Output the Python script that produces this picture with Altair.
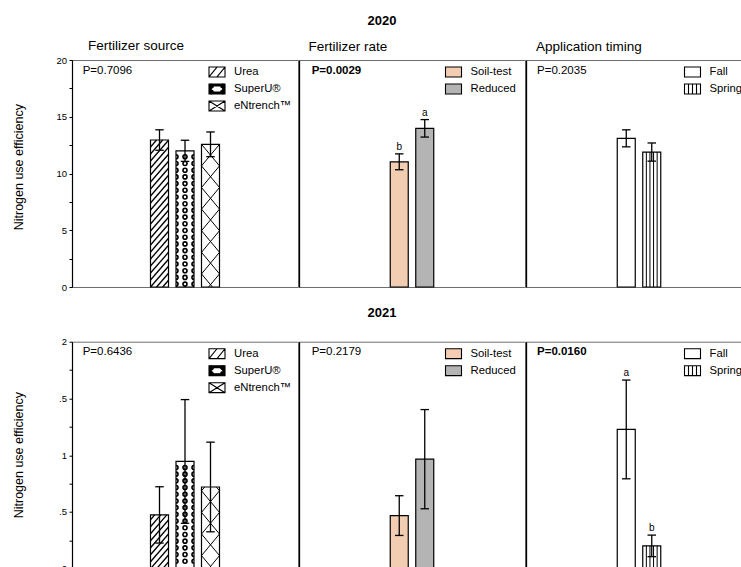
import json
import math

import altair as alt
import pandas as pd

FONT = "Liberation Sans"

# ---------------- data ----------------
SOURCE_LABELS = ["Urea", "SuperU®", "eNtrench™"]
RATE_LABELS = ["Soil-test", "Reduced"]
TIMING_LABELS = ["Fall", "Spring"]

NUE_SOURCE_2020 = [12.95, 12.00, 12.57]
SE_SOURCE_2020 = [0.90, 0.93, 1.09]
NUE_RATE_2020 = [11.03, 13.98]
SE_RATE_2020 = [0.70, 0.77]
LETTERS_RATE_2020 = ["b", "a"]
NUE_TIMING_2020 = [13.10, 11.89]
SE_TIMING_2020 = [0.75, 0.80]

NUE_SOURCE_2021 = [0.474, 0.945, 0.720]
SE_SOURCE_2021 = [0.248, 0.545, 0.395]
NUE_RATE_2021 = [0.468, 0.965]
SE_RATE_2021 = [0.175, 0.437]
NUE_TIMING_2021 = [1.227, 0.201]
SE_TIMING_2021 = [0.435, 0.095]
LETTERS_TIMING_2021 = ["a", "b"]

P_2020 = ["P=0.7096", "P=0.0029", "P=0.2035"]
P_2021 = ["P=0.6436", "P=0.2179", "P=0.0160"]
P_BOLD_2020 = [False, True, False]
P_BOLD_2021 = [False, False, True]

PANEL_TITLES = ["Fertilizer source", "Fertilizer rate", "Application timing"]

Y_TICKS_2020 = [0, 2.5, 5, 7.5, 10, 12.5, 15, 17.5, 20]
Y_MAJOR_2020 = [0, 5, 10, 15, 20]
Y_LABELS_2020 = ["0", "5", "10", "15", "20"]
Y_TICKS_2021 = [0, 0.25, 0.5, 0.75, 1, 1.25, 1.5, 1.75, 2]
Y_MAJOR_2021 = [0, 0.5, 1, 1.5, 2]
Y_LABELS_2021 = ["0", ".5", "1", ".5", "2"]

# ---------------- styling ----------------
PAGE_W, PAGE_H = 741, 567
PAD_LEFT, PAD_TOP = 72, 60      # top-left corner of the first plot on the page
PLOT_W = 226
PLOT_H = 227
STEP_PX = 25.5      # distance between neighbouring bar centres
BAR_PX = 18.0       # bar width
CAP_PX = 8.5        # error-bar cap width

BOX = "M-1,-0.62H1V0.62H-1Z"


def ring_path(x, y, r):
    return (f"M{x - r},{y}A{r},{r},0,1,1,{x + r},{y}"
            f"A{r},{r},0,1,1,{x - r},{y}Z")


SYM_UREA = BOX + " M-1,0.62L0,-0.62 M0,0.62L1,-0.62"
SYM_SUPERU = (BOX + " M-0.72,-0.38V0.38H0.72V-0.38Z "
              + ring_path(-0.72, -0.38, 0.26) + ring_path(0.72, -0.38, 0.26)
              + ring_path(-0.72, 0.38, 0.26) + ring_path(0.72, 0.38, 0.26))
SYM_ENTRENCH = BOX + " M-1,-0.62L1,0.62 M-1,0.62L1,-0.62"
SYM_SPRING = BOX + " M-0.5,-0.62V0.62 M0,-0.62V0.62 M0.5,-0.62V0.62"

STYLE = {
    "source": dict(bar=["white", "white", "white"], sym=["white", "black", "white"],
                   shapes=[SYM_UREA, SYM_SUPERU, SYM_ENTRENCH],
                   patterns=["slash", "rings", "cross"]),
    "rate": dict(bar=["#F2CDB2", "#B4B4B4"], sym=["#F2CDB2", "#B4B4B4"],
                 shapes=[BOX, BOX], patterns=[None, None]),
    "timing": dict(bar=["white", "white"], sym=["white", "white"],
                   shapes=[BOX, SYM_SPRING], patterns=[None, "vertical"]),
}

LEGEND_X = [136, 145.5, 157.5]
TITLE_DX = [16, 9.5, 10]
TITLE_OFFSET = [2.5, 7, 7]
P_X = [10.7, 12.7, 11]

HALF_LEFT = "M0,-1A1,1,0,0,1,0,1"
HALF_RIGHT = "M0,-1A1,1,0,0,0,0,1"


def diagonal_hatch(pos, top, py, slope, gap, phase=0.0):
    """Line segments of a diagonal hatch clipped to one bar (data units)."""
    h = top * py
    half = BAR_PX / 2
    segs = []
    if slope > 0:
        c_start, c_end = -slope * BAR_PX, h
    else:
        c_start, c_end = 0.0, h - slope * BAR_PX
    c = phase + math.floor((c_start - phase) / gap) * gap
    while c <= c_end:
        if slope > 0:
            u_a, u_b = max(0.0, -c / slope), min(BAR_PX, (h - c) / slope)
        else:
            u_a, u_b = max(0.0, (h - c) / slope), min(BAR_PX, -c / slope)
        if u_b - u_a > 0.4:
            segs.append({
                "hx": pos + (u_a - half) / STEP_PX, "hy": (c + slope * u_a) / py,
                "hx2": pos + (u_b - half) / STEP_PX, "hy2": (c + slope * u_b) / py,
            })
        c += gap
    return segs


def legend_params(legend_x):
    return alt.Legend(
        orient="none", legendX=legend_x, legendY=3, title=None, padding=0,
        symbolSize=256, symbolStrokeWidth=1.1, symbolStrokeColor="black",
        symbolOpacity=1, labelFontSize=11.3, labelFont=FONT, labelColor="black",
        labelOffset=8, rowPadding=-1, labelLimit=200)


def panel(kind, labels, means, errors, letters, ymax, ticks, majors, tick_labels,
          p_text, p_bold, p_x, p_y, legend_x, first, axis_title_y, title=None,
          title_dx=0, title_offset=7):
    st = STYLE[kind]
    n = len(labels)
    centre = (n - 1) / 2
    half_span = PLOT_W / 2 / STEP_PX
    x_lo = centre - half_span
    xs = alt.Scale(domain=[x_lo, centre + half_span], nice=False, zero=False)
    ys = alt.Scale(domain=[0, ymax], nice=False, zero=False)
    py = PLOT_H / ymax
    hw = BAR_PX / 2 / STEP_PX
    cw = CAP_PX / 2 / STEP_PX

    df = pd.DataFrame({"label": labels, "pos": list(range(n)), "nue": means, "se": errors})
    df["left"] = df["pos"] - hw
    df["right"] = df["pos"] + hw
    df["base"] = 0.0
    df["lo"] = df["nue"] - df["se"]
    df["hi"] = df["nue"] + df["se"]
    df["letter"] = letters if letters else [""] * n
    df["hidden"] = -float(ymax)     # below the plot, clipped away

    if first:
        idx = f"indexof({json.dumps(majors)}, datum.value)"
        yaxis = alt.Axis(
            values=ticks,
            labelExpr=f"{idx} >= 0 ? {json.dumps(tick_labels)}[{idx}] : ''",
            tickSize=3,
            grid=False, domainColor="black", domainWidth=1.2, tickColor="black",
            tickWidth=1, labelFontSize=9.5, labelColor="black", labelPadding=2.5,
            title="Nitrogen use efficiency", titleFontSize=12.5, titleFontWeight="normal",
            titleColor="black", titleX=-54, titleY=axis_title_y, titleAngle=270,
            titleAlign="center", titleBaseline="middle",
        )
    else:
        yaxis = alt.Axis(title=None, labels=False, ticks=False, grid=False, domain=True,
                         domainColor="black", domainWidth=1.3)

    def X(field):
        return alt.X(field, scale=xs, axis=None)

    def Y(field):
        return alt.Y(field, scale=ys, axis=yaxis)

    layers = []
    layers.append(alt.Chart(df).mark_rect(stroke="black", strokeWidth=1.2).encode(
        x=X("left:Q"), x2="right:Q", y=Y("nue:Q"), y2="base:Q",
        color=alt.Color("pos:O", scale=alt.Scale(domain=list(range(n)), range=st["bar"]),
                        legend=None),
    ))

    # fill patterns of the bars
    for i, pat in enumerate(st["patterns"]):
        if pat is None:
            continue
        top = means[i]
        if pat in ("slash", "cross"):
            if pat == "slash":
                segs = diagonal_hatch(i, top, py, 1.15, 7.0)
                width = 1.3
            else:
                segs = (diagonal_hatch(i, top, py, 1.2, 21.6, -8.5)
                        + diagonal_hatch(i, top, py, -1.2, 21.6, -8.5))
                width = 1.0
            layers.append(alt.Chart(pd.DataFrame(segs)).mark_rule(
                color="black", strokeWidth=width).encode(
                x=X("hx:Q"), x2="hx2:Q", y=Y("hy:Q"), y2="hy2:Q"))
        elif pat == "vertical":
            lines = [{"vx": i + (k * BAR_PX / 5 - BAR_PX / 2) / STEP_PX, "vy": 0.0, "vy2": top}
                     for k in range(1, 5)]
            layers.append(alt.Chart(pd.DataFrame(lines)).mark_rule(
                color="black", strokeWidth=1.0).encode(
                x=X("vx:Q"), y=Y("vy:Q"), y2="vy2:Q"))
        elif pat == "rings":
            rows = []
            v = top * py - 6.0
            while v >= 2.0:
                rows.append({"ry": v / py, "rc": float(i), "rl": i - hw, "rr": i + hw})
                v -= 6.7
            rdf = pd.DataFrame(rows)
            layers.append(alt.Chart(rdf).mark_point(
                shape="circle", size=16, fill="white", fillOpacity=1, stroke="black",
                strokeWidth=1.6, opacity=1).encode(x=X("rc:Q"), y=Y("ry:Q")))
            for col, shp in (("rl", HALF_LEFT), ("rr", HALF_RIGHT)):
                layers.append(alt.Chart(rdf).mark_point(
                    shape=shp, size=16, filled=False, stroke="black", strokeWidth=1.6,
                    opacity=1).encode(x=X(f"{col}:Q"), y=Y("ry:Q")))

    # error bars
    layers.append(alt.Chart(df).mark_rule(color="black", strokeWidth=1.3).encode(
        x=X("pos:Q"), y=Y("lo:Q"), y2="hi:Q"))
    caps = pd.DataFrame(
        [{"cx": p - cw, "cx2": p + cw, "cy": y}
         for p, lo, hi in zip(df["pos"], df["lo"], df["hi"]) for y in (lo, hi)])
    layers.append(alt.Chart(caps).mark_rule(color="black", strokeWidth=1.3).encode(
        x=X("cx:Q"), x2="cx2:Q", y=Y("cy:Q")))

    if letters:
        layers.append(alt.Chart(df).mark_text(
            baseline="alphabetic", dy=-4, fontSize=10, color="black", font=FONT).encode(
            x=X("pos:Q"), y=Y("hi:Q"), text="letter:N"))

    # P value, anchored at the top-left corner of the panel
    pdf = pd.DataFrame({"p": [p_text], "px": [x_lo], "py": [float(ymax)]})
    layers.append(alt.Chart(pdf).mark_text(
        align="left", baseline="middle", dx=p_x, dy=p_y, fontSize=11.5, color="black",
        font=FONT, fontWeight="bold" if p_bold else "normal").encode(
        x=X("px:Q"), y=Y("py:Q"), text="p:N"))

    # legend carrier: points sit outside the clipped plot, only the legend shows
    leg = legend_params(legend_x)
    layers.append(alt.Chart(df).mark_point(clip=True, strokeWidth=1.1).encode(
        x=X("pos:Q"), y=Y("hidden:Q"),
        fill=alt.Fill("label:N", scale=alt.Scale(domain=labels, range=st["sym"]), legend=leg),
        stroke=alt.Stroke("label:N", scale=alt.Scale(domain=labels, range=["black"] * n),
                          legend=leg),
        shape=alt.Shape("label:N", scale=alt.Scale(domain=labels, range=st["shapes"]),
                        legend=leg),
    ))

    props = dict(width=PLOT_W, height=PLOT_H)
    if title:
        props["title"] = alt.TitleParams(title, anchor="start", frame="group", dx=title_dx,
                                         fontSize=13.5, fontWeight="normal",
                                         offset=title_offset, color="black", font=FONT)
    return alt.layer(*layers).properties(**props)


def row(year, values, errors, letters, p_texts, p_bold, ymax, ticks, majors, tick_labels,
        p_y, axis_title_y, titles, title_offset):
    kinds = ["source", "rate", "timing"]
    labs = [SOURCE_LABELS, RATE_LABELS, TIMING_LABELS]
    panels = []
    for j in range(3):
        panels.append(panel(
            kinds[j], labs[j], values[j], errors[j], letters[j], ymax, ticks, majors,
            tick_labels, p_texts[j], p_bold[j], P_X[j], p_y, LEGEND_X[j], j == 0,
            axis_title_y, title=titles[j] if titles else None, title_dx=TITLE_DX[j],
            title_offset=TITLE_OFFSET[j]))
    return alt.hconcat(
        *panels, spacing=-1.5,
        title=alt.TitleParams(year, anchor="middle", frame="bounds", fontSize=13,
                              fontWeight="bold", offset=title_offset, color="black",
                              font=FONT),
    ).resolve_scale(color="independent", fill="independent", shape="independent",
                    stroke="independent")


row2020 = row("2020",
              [NUE_SOURCE_2020, NUE_RATE_2020, NUE_TIMING_2020],
              [SE_SOURCE_2020, SE_RATE_2020, SE_TIMING_2020],
              [None, LETTERS_RATE_2020, None],
              P_2020, P_BOLD_2020, 20, Y_TICKS_2020, Y_MAJOR_2020, Y_LABELS_2020,
              11, 106.7, PANEL_TITLES, 11)

row2021 = row("2021",
              [NUE_SOURCE_2021, NUE_RATE_2021, NUE_TIMING_2021],
              [SE_SOURCE_2021, SE_RATE_2021, SE_TIMING_2021],
              [None, None, LETTERS_TIMING_2021],
              P_2021, P_BOLD_2021, 2, Y_TICKS_2021, Y_MAJOR_2021, Y_LABELS_2021,
              10.2, 113, None, 16)

# The figure is wider and taller than the page; the canvas keeps the page size
# and the right and bottom edges of the figure run past it.
chart = alt.vconcat(row2020, row2021, spacing=14.7).resolve_scale(
    color="independent", fill="independent", shape="independent", stroke="independent",
).properties(
    autosize=alt.AutoSizeParams(type="none"),
    padding={"left": PAD_LEFT, "top": PAD_TOP,
             "right": PAGE_W - PAD_LEFT, "bottom": PAGE_H - PAD_TOP},
).configure(font=FONT).configure_view(stroke="#6e6e6e", strokeWidth=1)

chart.save("out.html", embed_options={"renderer": "svg", "actions": False})
